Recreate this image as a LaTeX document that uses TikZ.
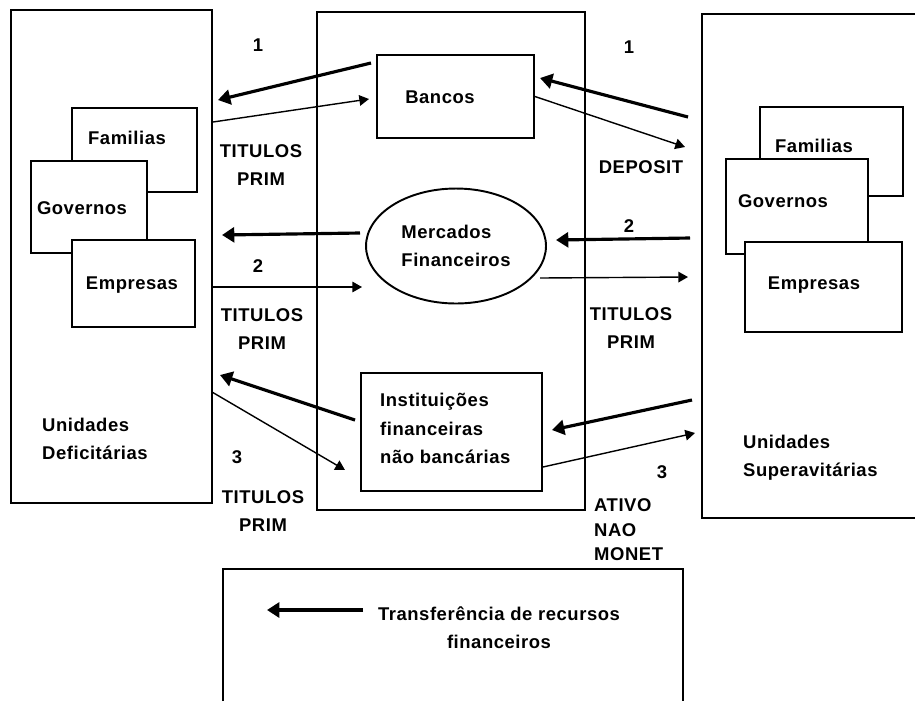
\documentclass[tikz,border=0pt]{standalone}
\usepackage{fontspec}
\setmainfont{Liberation Sans}[LetterSpace=3]
\usetikzlibrary{arrows.meta,shapes.geometric}

\begin{document}
\begin{tikzpicture}[x=0.02cm, y=-0.02cm,
        every node/.style={font=\fontsize{10.5}{16}\selectfont\bfseries},
        box/.style={draw, line width=1.1pt, fill=white, inner sep=0pt},
        outer/.style={line width=1.1pt},
        bigarrow/.style={line width=1.8pt, -{Triangle[length=7pt,width=8.5pt]}},
        smallarrow/.style={line width=0.8pt, -{Triangle[length=5.5pt,width=6pt]}}]
        \useasboundingbox (0,0) rectangle (915,701);

        % outer boxes
        \node [box, minimum width=4.02cm, minimum height=9.86cm] (deficit) at (111.5,256.5) {};
        \node [box, minimum width=5.36cm, minimum height=9.96cm] (mercado) at (451,261) {};
        \draw [outer] (915,14) -- (702,14) -- (702,518) -- (915,518);
        \draw [outer] (223,701) -- (223,569) -- (683,569) -- (683,701);

        % left side
        \node [box, minimum width=2.5cm, minimum height=1.68cm] (lfam) at (134.5,150) {};
        \node [box, minimum width=2.32cm, minimum height=1.84cm] (lgov) at (89,207) {};
        \node [box, minimum width=2.46cm, minimum height=1.74cm] (lemp) at (133.5,283.5) {};
        \node (lfamtxt) at (127,138) {Familias};
        \node (lgovtxt) at (82,208) {Governos};
        \node (lemptxt) at (132,285) {Empresas};
        \node [align=left, anchor=west] (deftxt) at (36,439) {Unidades\\Deficitárias};

        % right side
        \node [box, minimum width=2.86cm, minimum height=1.78cm] (rfam) at (831.5,151.5) {};
        \node [box, minimum width=2.84cm, minimum height=1.9cm] (rgov) at (797,206.5) {};
        \node [box, minimum width=3.14cm, minimum height=1.8cm] (remp) at (823.5,287) {};
        \node (rfamtxt) at (814,146) {Familias};
        \node (rgovtxt) at (783,201) {Governos};
        \node (remptxt) at (814,285) {Empresas};
        \node [align=left, anchor=west] (suptxt) at (737,458) {Unidades\\Superavitárias};

        % intermediaries
        \node [box, minimum width=3.14cm, minimum height=1.66cm] (bancos) at (455.5,96.5) {};
        \node (bancostxt) at (440,97) {Bancos};
        \node [box, ellipse, minimum width=3.6cm, minimum height=2.3cm, align=left] (merc) at (456,246) {Mercados\\Financeiros};
        \node [box, minimum width=3.62cm, minimum height=2.36cm] (inst) at (451.5,432) {};
        \node [align=left, anchor=west, font=\fontsize{10.5}{16.2}\selectfont\bfseries] (insttxt) at (374,428.5) {Instituições\\financeiras\\não bancárias};

        % arrow ends
        \coordinate (a1) at (371,63);   \coordinate (a2) at (218,100);
        \coordinate (b1) at (213,122);  \coordinate (b2) at (369,99);
        \coordinate (c1) at (688,117);  \coordinate (c2) at (540,78);
        \coordinate (d2) at (685,147);
        \coordinate (e1) at (360,233);  \coordinate (e2) at (222,235);
        \coordinate (f2) at (362,287);
        \coordinate (g1) at (690,238);  \coordinate (g2) at (556,240);
        \coordinate (h1) at (540,278);  \coordinate (h2) at (688,277);
        \coordinate (i1) at (355,420);  \coordinate (i2) at (220,375);
        \coordinate (j1) at (212,392);  \coordinate (j2) at (345,470);
        \coordinate (k1) at (692,400);  \coordinate (k2) at (552,430);
        \coordinate (l2) at (695,433);
        \coordinate (m1) at (363,610);  \coordinate (m2) at (267,610);

        \draw [bigarrow] (a1) -- (a2);
        \draw [smallarrow] (b1) -- (b2);
        \draw [bigarrow] (c1) -- (c2);
        \draw [smallarrow] (bancos.east) -- (d2);
        \draw [bigarrow] (e1) -- (e2);
        \draw [smallarrow] (deficit.east |- f2) -- (f2);
        \draw [bigarrow] (g1) -- (g2);
        \draw [smallarrow] (h1) -- (h2);
        \draw [bigarrow] (i1) -- (i2);
        \draw [smallarrow] (j1) -- (j2);
        \draw [bigarrow] (k1) -- (k2);
        \draw [smallarrow] (inst.east |- 0,467) -- (l2);

        % flow labels
        \node (n1l) at (258,45) {1};
        \node (n1r) at (629,47) {1};
        \node (n2l) at (258,266) {2};
        \node (n2r) at (629,226) {2};
        \node (n3l) at (237,457) {3};
        \node (n3r) at (662,472) {3};
        \node [align=center] (tit1) at (261,165) {TITULOS\\PRIM};
        \node (dep) at (641,167) {DEPOSIT};
        \node [align=center] (tit2) at (262,329) {TITULOS\\PRIM};
        \node [align=center] (tit2r) at (631,328) {TITULOS\\PRIM};
        \node [align=center] (tit3) at (263,511) {TITULOS\\PRIM};
        \node [align=left, anchor=west, font=\fontsize{10.5}{14}\selectfont\bfseries] (ativo) at (588,530) {ATIVO\\NAO\\MONET};

        % legend
        \draw [bigarrow] (m1) -- (m2);
        \node [align=center] (legtxt) at (499,628) {Transferência de recursos\\financeiros};
    \end{tikzpicture}
\end{document}
